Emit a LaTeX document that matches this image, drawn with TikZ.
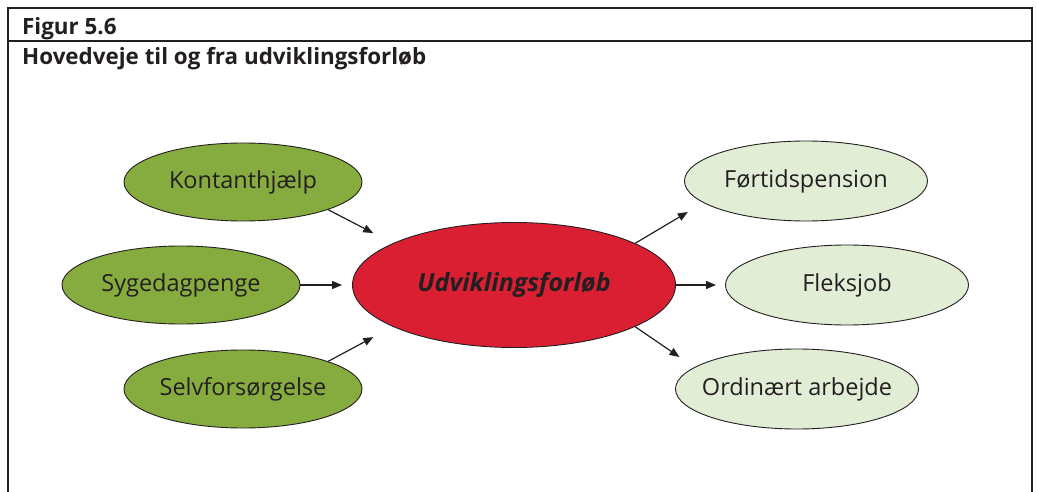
\documentclass[tikz,border=0pt]{standalone}
\usepackage{fontspec}
\setmainfont{Open Sans}
\usepackage{tikz}
\usetikzlibrary{arrows.meta,positioning,shapes.geometric}
\usepackage{xcolor}
\definecolor{routegreen}{HTML}{86AC3F}
\definecolor{routelight}{HTML}{E2EDD6}
\definecolor{routered}{HTML}{DA1F33}
\definecolor{inktext}{HTML}{231F20}

\begin{document}
\begin{tikzpicture}[
  x=1pt, y=-1pt,
  >={Triangle[length=10pt,width=8pt]},
  route/.style={
    ellipse,
    draw=inktext,
    line width=0.9pt,
    inner xsep=-25pt,
    inner ysep=0pt,
    text=inktext,
    font=\fontsize{23.5}{26}\selectfont
  },
  inroute/.style={route, fill=routegreen, minimum width=238pt, minimum height=78pt},
  outroute/.style={route, fill=routelight, minimum width=243pt, minimum height=80pt},
  hub/.style={route, fill=routered, minimum width=323pt, minimum height=125pt,
    font=\fontsize{25}{28}\selectfont\bfseries\itshape},
  heading/.style={anchor=base west, inner sep=0pt, text=inktext,
    font=\fontsize{22.4}{26}\selectfont\bfseries},
  flow/.style={->, line width=1.2pt, draw=inktext}
]
  \useasboundingbox (0,0) rectangle (1037,492);

  % --- Frame and headings ---
  \draw[line width=1.2pt, inktext] (8,492) -- (8,8) -- (1032,8) -- (1032,492);
  \draw[line width=1.2pt, inktext] (8,41) -- (1032,41);
  \node[heading] (fignum) at (22,35) {Figur 5.6};
  \node[heading] (figtitle) at (22,65) {Hovedveje til og fra udviklingsforløb};

  % --- Routes in ---
  \node[inroute] (kh) at (243,182) {Kontanthjælp};
  \node[inroute] (sd) at (181,285) {Sygedagpenge};
  \node[inroute] (sf) at (243,389) {Selvforsørgelse};

  % --- Hub ---
  \node[hub] (uf) at (514,285) {Udviklingsforløb};

  % --- Routes out ---
  \node[outroute] (fp) at (806,181) {Førtidspension};
  \node[outroute] (fj) at (847,285) {Fleksjob};
  \node[outroute] (oa) at (797,389) {Ordinært arbejde};

  % Arrows in and out of the hub
  \draw[flow, shorten >=22pt] (kh.-18) -- (uf.161);
  \draw[flow, shorten >=10pt] (sd.east) -- (uf.west);
  \draw[flow, shorten >=22pt] (sf.18) -- (uf.199);
  \draw[flow, shorten >=18pt] (uf.19) -- (fp.192);
  \draw[flow, shorten >=9pt] (uf.east) -- (fj.west);
  \draw[flow, shorten >=18pt] (uf.-19) -- (oa.168);

\end{tikzpicture}
\end{document}
